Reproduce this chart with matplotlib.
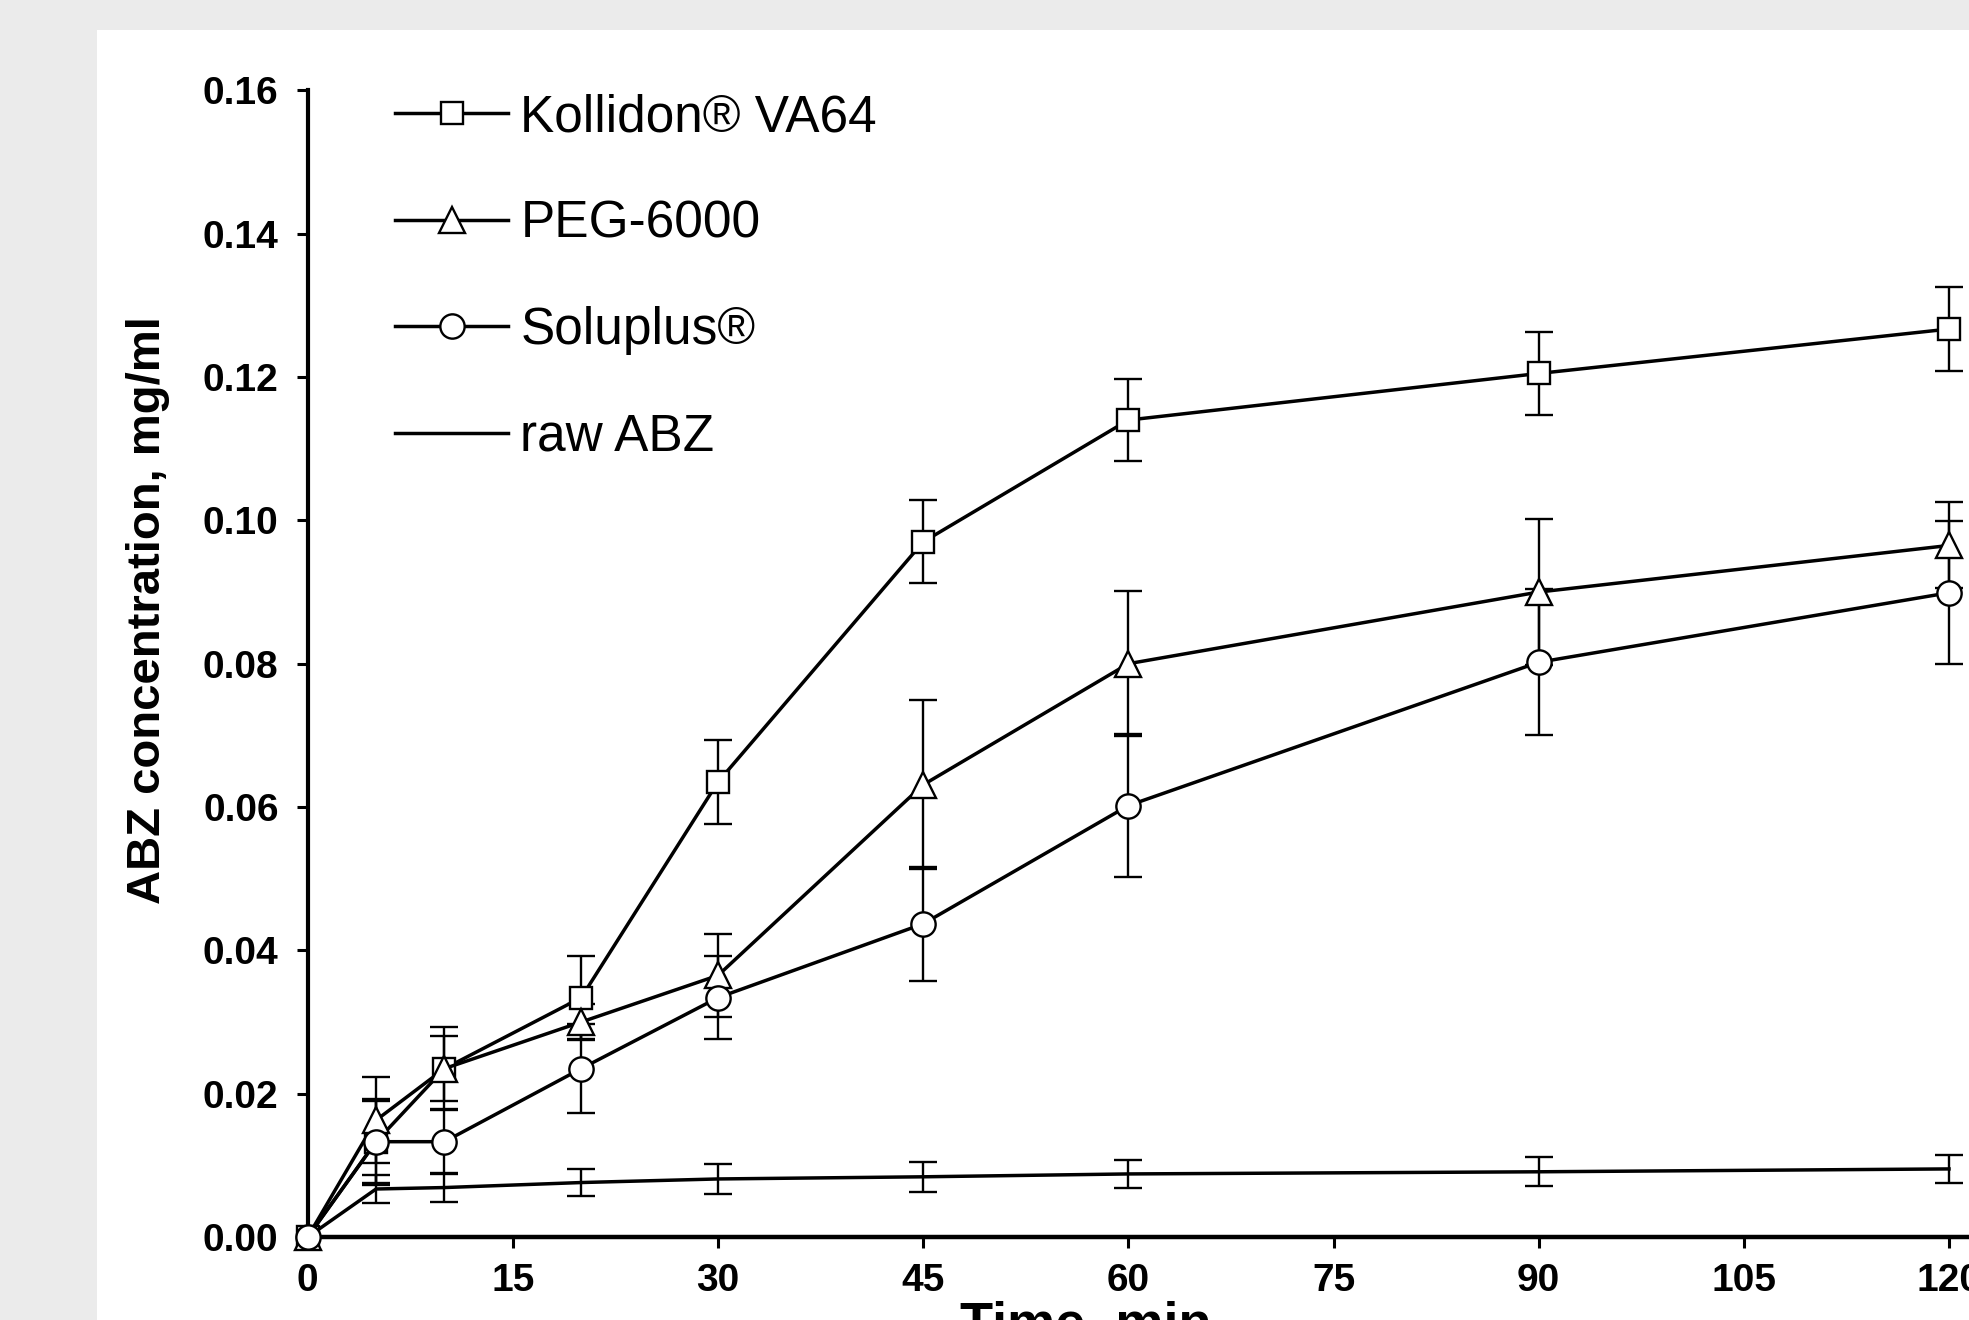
import numpy as np
import matplotlib
matplotlib.use("Agg")
import matplotlib.pyplot as plt
from matplotlib.patches import Rectangle
from matplotlib.ticker import FormatStrFormatter

plt.rcParams['font.family'] = ['Liberation Sans', 'DejaVu Sans']

# dissolution data, ABZ concentration (mg/ml) vs time (min)
time_min = [0, 5, 10, 20, 30, 45, 60, 90, 120]

kollidon = [0, 0.0133, 0.0235, 0.0334, 0.0635, 0.0970, 0.1140, 0.1205, 0.1267]
kollidon_err = [0, 0.0057, 0.0045, 0.0058, 0.0058, 0.0058, 0.0057, 0.0058, 0.0058]

peg = [0, 0.0163, 0.0235, 0.0300, 0.0365, 0.0631, 0.0800, 0.0900, 0.0965]
peg_err = [0, 0.0060, 0.0058, 0.0025, 0.0058, 0.0118, 0.0101, 0.0102, 0.0060]

soluplus = [0, 0.0133, 0.0133, 0.0235, 0.0334, 0.0437, 0.0602, 0.0802, 0.0899]
soluplus_err = [0, 0.0060, 0.0045, 0.0062, 0.0058, 0.0080, 0.0100, 0.0102, 0.0100]

raw_abz = [0, 0.0067, 0.0069, 0.0076, 0.0081, 0.0084, 0.0088, 0.0091, 0.0095]
raw_abz_err = [0, 0.0020, 0.0020, 0.0019, 0.0021, 0.0021, 0.0020, 0.0020, 0.0020]

labels = ['Kollidon® VA64', 'PEG-6000', 'Soluplus®', 'raw ABZ']

W, H = 1969, 1320
fig = plt.figure(figsize=(W / 100, H / 100), dpi=100, facecolor='#ebebeb')
fig.patches.append(Rectangle((97 / W, 0), 1 - 97 / W, 1 - 30 / H,
                             transform=fig.transFigure, facecolor='white',
                             edgecolor='none', zorder=-1))

# axes placed so that x=0 -> 307.7px, x=120 -> 1949px, y=0 -> 1237px, y=0.16 -> 90px
px_per_min = (1949 - 307.7) / 120
xmax = 126
ax = fig.add_axes([307.7 / W, 1 - 1237 / H, xmax * px_per_min / W, (1237 - 90.4) / H])
ax.set_facecolor('none')

err_kw = dict(fmt='none', ecolor='black', elinewidth=1.7, capsize=10,
              capthick=1.7, errorevery=(1, 1), zorder=2)
ax.errorbar(time_min, raw_abz, yerr=raw_abz_err, **err_kw)
ax.errorbar(time_min, kollidon, yerr=kollidon_err, **err_kw)
ax.errorbar(time_min, peg, yerr=peg_err, **err_kw)
ax.errorbar(time_min, soluplus, yerr=soluplus_err, **err_kw)

mk = dict(color='black', lw=2.5, mfc='white', mec='black', mew=1.7, clip_on=False)
l4, = ax.plot(time_min, raw_abz, color='black', lw=2.5, zorder=2.5, clip_on=False)
l1, = ax.plot(time_min, kollidon, marker='s', ms=16.5, zorder=3, **mk)
l2, = ax.plot(time_min, peg, marker='^', ms=18.5, zorder=3.1, **mk)
l3, = ax.plot(time_min, soluplus, marker='o', ms=17.5, zorder=3.2, **mk)

ax.set_xlim(0, xmax)
ax.set_ylim(0, 0.16)
ax.set_xticks(np.arange(0, 121, 15))
ax.set_yticks(np.arange(0, 0.161, 0.02))
ax.yaxis.set_major_formatter(FormatStrFormatter('%.2f'))

for s in ['top', 'right']:
    ax.spines[s].set_visible(False)
ax.spines['left'].set_linewidth(3)
ax.spines['bottom'].set_linewidth(3.2)
ax.tick_params(direction='out', length=8, width=2.2, labelsize=28)
ax.tick_params(axis='x', pad=11)
ax.tick_params(axis='y', pad=13)
for t in ax.get_xticklabels() + ax.get_yticklabels():
    t.set_fontweight('bold')

fig.text(148 / W, 1 - 610 / H, 'ABZ concentration, mg/ml', rotation=90,
         ha='center', va='center', fontsize=34, fontweight='bold')
# axis title is cut by the bottom edge, as in the source
fig.text(1086 / W, -0.0144, 'Time, min', ha='center', va='baseline',
         fontsize=39, fontweight='bold')

ax.legend([l1, l2, l3, l4], labels, loc='upper left',
          bbox_to_anchor=(395 / W, 1 - 93 / H), bbox_transform=fig.transFigure,
          frameon=False, fontsize=37, handlelength=2.2, handletextpad=0.24,
          labelspacing=1.12, borderpad=0, borderaxespad=0)

fig.savefig('out.png', dpi=100, facecolor=fig.get_facecolor())
